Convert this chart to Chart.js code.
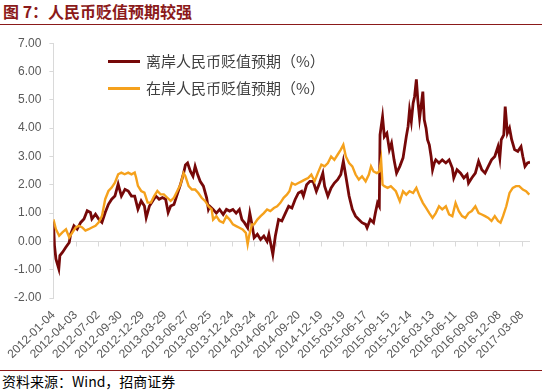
<!DOCTYPE html>
<html>
<head>
<meta charset="utf-8">
<script src="https://cdn.jsdelivr.net/npm/chart.js@4.4.0/dist/chart.umd.min.js"></script>
<style>
  body { margin: 0; width: 542px; height: 390px; background: #fff; position: relative; overflow: hidden; font-family: "Noto Sans CJK SC", sans-serif; }
  #title { position: absolute; left: 3px; top: 1px; font-size: 16px; line-height: 20px; color: #8b1a1a; font-weight: bold; white-space: nowrap; }
  .rule { position: absolute; left: 0; width: 542px; height: 0; border-top: 1px solid #8b1a1a; }
  #chartBox { position: absolute; left: 0; top: 28px; width: 542px; height: 342px; }
  .legend { position: absolute; left: 108px; font-size: 15px; line-height: 20px; color: #404040; white-space: nowrap; }
  .legend i { display: inline-block; width: 32px; height: 0; border-top: 3px solid; vertical-align: middle; margin-right: 6px; position: relative; top: -1px; }
  #foot { position: absolute; left: 2px; top: 372px; font-size: 14px; line-height: 18px; color: #000; white-space: nowrap; }
</style>
</head>
<body>
<div id="title">图 7：人民币贬值预期较强</div>
<div class="rule" style="top:24px"></div>
<div id="chartBox"><canvas id="chart" width="542" height="342"></canvas></div>
<div class="legend" id="leg1" style="top:51px"></div>
<div class="legend" id="leg2" style="top:78px"></div>
<div class="rule" style="top:370px"></div>
<div id="foot">资料来源：Wind，招商证券</div>

<script>
// series names
const offshoreName = '离岸人民币贬值预期（%）';
const onshoreName = '在岸人民币贬值预期（%）';

// x axis: trading-day index from 2012-01-04
const tickDays = [0, 62, 124, 186, 248, 310, 372, 434, 496, 558, 620, 682, 744, 806, 868, 930, 992, 1054, 1116, 1178, 1240, 1302];
const tickLabels = ['2012-01-04', '2012-04-03', '2012-07-02', '2012-09-30', '2012-12-29', '2013-03-29', '2013-06-27',
    '2013-09-25', '2013-12-24', '2014-03-24', '2014-06-22', '2014-09-20', '2014-12-19', '2015-03-19', '2015-06-17',
    '2015-09-15', '2015-12-14', '2016-03-13', '2016-06-11', '2016-09-09', '2016-12-08', '2017-03-08'];
const yTicks = [-2, -1, 0, 1, 2, 3, 4, 5, 6, 7];

// offshore (CNH) expectation
const offshoreDays = [0, 3, 7, 15, 18, 25, 35, 44, 48, 57, 66, 76, 85, 94, 103, 107, 117, 126, 135, 144, 153, 162, 171, 180,
    189, 199, 208, 217, 226, 235, 244, 253, 258, 267, 276, 285, 294, 303, 312, 319, 326, 335, 344, 353, 362, 367, 373, 381,
    388, 394, 401, 408, 417, 426, 431, 435, 444, 453, 462, 472, 481, 490, 499, 508, 517, 524, 531, 540, 546, 552, 558, 567,
    576, 585, 594, 599, 610, 617, 626, 635, 645, 654, 663, 672, 681, 690, 695, 704, 713, 722, 731, 740, 749, 754, 763, 772,
    781, 790, 799, 806, 813, 822, 831, 840, 849, 858, 868, 872, 881, 890, 895, 901, 906, 908, 915, 920, 927, 934, 940, 947,
    954, 963, 972, 981, 986, 990, 995, 1000, 1004, 1009, 1013, 1018, 1022, 1027, 1031, 1036, 1040, 1045, 1050, 1054, 1059,
    1063, 1072, 1081, 1091, 1100, 1109, 1113, 1122, 1132, 1141, 1150, 1154, 1163, 1173, 1182, 1191, 1200, 1209, 1218, 1227,
    1236, 1241, 1245, 1252, 1256, 1262, 1268, 1274, 1282, 1291, 1300, 1305, 1311, 1318, 1325];
const offshoreValues = [0.70, -0.15, -0.62, -0.97, -0.50, -0.39, -0.20, -0.04, 0.26, 0.55, 0.43, 0.67, 0.79, 1.08, 1.02, 0.79,
    0.96, 0.79, 0.67, 1.02, 1.31, 1.49, 1.60, 2.02, 1.60, 1.84, 1.78, 1.60, 1.60, 1.14, 1.43, 1.25, 0.84, 1.25, 1.43, 1.60,
    1.49, 1.55, 1.49, 1.02, 1.25, 1.30, 1.65, 2.00, 2.41, 2.70, 2.77, 2.47, 2.30, 2.65, 2.36, 2.12, 1.95, 1.54, 1.13, 1.24,
    1.13, 1.00, 1.13, 0.95, 1.13, 1.07, 1.13, 1.00, 1.13, 0.77, 0.66, 0.48, 1.00, 0.60, 0.13, 0.25, 0.07, 0.19, 0.00, 0.25,
    -0.46, 0.19, 0.77, 0.72, 1.00, 1.24, 1.18, 1.48, 1.71, 1.77, 1.60, 2.00, 2.12, 2.12, 1.77, 2.06, 2.41, 1.95, 1.60, 1.89,
    2.06, 2.18, 2.36, 2.83, 2.30, 1.60, 1.13, 0.89, 0.77, 0.66, 0.60, 0.48, 0.77, 0.66, 1.00, 1.36, 1.24, 3.76, 4.40, 3.70,
    3.82, 3.24, 3.47, 2.88, 2.41, 2.65, 2.95, 3.70, 4.06, 4.64, 4.23, 4.88, 5.11, 5.72, 5.00, 4.35, 4.76, 5.29, 4.29, 4.00,
    3.59, 3.41, 3.00, 2.53, 2.77, 2.88, 2.77, 2.88, 2.77, 2.88, 2.59, 2.24, 2.53, 2.41, 2.24, 2.36, 2.06, 2.24, 2.41, 2.83,
    2.53, 2.41, 2.65, 2.88, 3.00, 3.35, 2.94, 3.59, 3.76, 4.76, 3.82, 4.00, 3.59, 3.24, 3.18, 3.35, 3.00, 2.65, 2.77, 2.80];

// onshore (CNY) expectation
const onshoreDays = [0, 7, 16, 25, 35, 44, 53, 62, 71, 80, 89, 98, 107, 117, 126, 135, 144, 153, 162, 171, 180, 189, 198, 208,
    217, 226, 230, 235, 244, 253, 262, 271, 280, 289, 298, 307, 316, 326, 335, 344, 353, 362, 367, 376, 385, 394, 403, 412,
    422, 431, 440, 444, 453, 462, 472, 481, 490, 499, 508, 517, 526, 535, 540, 544, 552, 558, 567, 576, 585, 594, 603, 613,
    622, 631, 640, 649, 656, 663, 672, 681, 690, 699, 708, 717, 726, 735, 745, 754, 763, 772, 781, 790, 799, 806, 813, 822,
    831, 840, 849, 858, 868, 877, 883, 890, 899, 906, 911, 915, 920, 929, 938, 952, 963, 972, 981, 990, 1000, 1009, 1018,
    1027, 1036, 1045, 1054, 1063, 1072, 1081, 1091, 1100, 1109, 1118, 1127, 1136, 1145, 1154, 1163, 1173, 1182, 1191, 1200,
    1209, 1218, 1227, 1236, 1243, 1250, 1259, 1268, 1277, 1286, 1295, 1305, 1314, 1323];
const onshoreValues = [0.78, 0.43, 0.20, 0.32, 0.43, 0.14, 0.32, 0.49, 0.55, 0.49, 0.38, 0.43, 0.49, 0.55, 0.67, 0.90, 1.49,
    1.78, 1.90, 2.07, 2.37, 2.43, 2.37, 2.43, 2.37, 2.43, 2.25, 1.96, 1.78, 1.72, 1.37, 1.37, 1.60, 1.78, 1.66, 1.66, 1.55,
    1.43, 1.54, 1.77, 2.00, 2.41, 2.30, 1.95, 1.83, 1.83, 1.71, 1.54, 1.42, 1.24, 1.13, 0.77, 0.89, 0.72, 0.66, 0.89, 0.77,
    0.60, 0.54, 0.48, 0.42, 0.30, -0.10, 0.19, 0.60, 0.60, 0.77, 0.89, 1.00, 1.13, 1.07, 1.18, 1.24, 1.36, 1.54, 1.65, 1.77,
    2.06, 2.00, 2.06, 2.12, 2.18, 2.24, 2.36, 2.12, 2.41, 2.71, 2.65, 2.77, 3.00, 2.88, 3.06, 3.24, 3.41, 3.00, 2.77, 2.65,
    2.36, 2.18, 2.30, 2.12, 2.36, 2.65, 2.47, 2.41, 2.47, 2.88, 2.00, 1.95, 1.89, 1.95, 1.77, 1.42, 1.77, 1.65, 1.77, 1.71,
    1.89, 1.60, 1.36, 1.18, 1.00, 0.83, 1.00, 1.24, 1.13, 1.24, 0.95, 0.89, 1.36, 1.07, 0.89, 0.83, 1.00, 1.07, 1.24, 1.00,
    0.95, 0.89, 0.83, 0.72, 0.89, 0.72, 0.66, 0.89, 1.24, 1.71, 1.89, 1.95, 1.95, 1.83, 1.77, 1.65];

const offshoreColor = '#760808';
const onshoreColor = '#f5a11c';

function legendRow(id, color, text) {
    const el = document.getElementById(id);
    el.innerHTML = '<i style="border-color:' + color + '"></i>' + text;
}
legendRow('leg1', offshoreColor, offshoreName);
legendRow('leg2', onshoreColor, onshoreName);

// zero line with little tick marks, drawn under the series
const zeroAxis = {
    id: 'zeroAxis',
    beforeDatasetsDraw(chart) {
        const c = chart.ctx;
        const area = chart.chartArea;
        const y0 = Math.round(chart.scales.y.getPixelForValue(0)) + 0.5;
        c.save();
        c.strokeStyle = '#d9d9d9';
        c.lineWidth = 1;
        c.beginPath();
        c.moveTo(area.left, y0);
        c.lineTo(area.right, y0);
        tickDays.forEach(d => {
            const x = Math.round(chart.scales.x.getPixelForValue(d)) + 0.5;
            c.moveTo(x, y0);
            c.lineTo(x, y0 + 5);
        });
        c.stroke();
        c.restore();
    }
};

const toPoints = (days, vals) => days.map((d, i) => ({ x: d, y: vals[i] }));

new Chart(document.getElementById('chart'), {
    type: 'line',
    data: {
        datasets: [{
            label: onshoreName,
            data: toPoints(onshoreDays, onshoreValues),
            borderColor: onshoreColor,
            borderWidth: 2.4,
            pointRadius: 0,
            tension: 0
        }, {
            label: offshoreName,
            data: toPoints(offshoreDays, offshoreValues),
            borderColor: offshoreColor,
            borderWidth: 2.8,
            pointRadius: 0,
            tension: 0
        }]
    },
    options: {
        responsive: false,
        animation: false,
        layout: { padding: { top: 15, right: 5, left: 0, bottom: 0 } },
        scales: {
            x: {
                type: 'linear',
                min: 0,
                max: 1325,
                afterBuildTicks: s => { s.ticks = tickDays.map(v => ({ value: v })); },
                afterFit: s => { s.height = 72; },
                grid: { display: false, drawTicks: false },
                border: { display: false },
                ticks: {
                    autoSkip: false,
                    minRotation: 45,
                    maxRotation: 45,
                    padding: 10,
                    color: '#595959',
                    font: { family: 'Liberation Sans', size: 12 },
                    callback: (v, i) => tickLabels[i]
                }
            },
            y: {
                min: -2,
                max: 7,
                afterBuildTicks: s => { s.ticks = yTicks.map(v => ({ value: v })); },
                afterFit: s => { s.width = 52; },
                grid: { drawOnChartArea: false, tickLength: 4, color: '#d9d9d9' },
                border: { color: '#d9d9d9' },
                ticks: {
                    padding: 8,
                    color: '#595959',
                    font: { family: 'Liberation Sans', size: 12 },
                    callback: v => v.toFixed(2)
                }
            }
        },
        plugins: {
            legend: { display: false },
            tooltip: { enabled: false }
        }
    },
    plugins: [zeroAxis]
});
</script>
</body>
</html>
